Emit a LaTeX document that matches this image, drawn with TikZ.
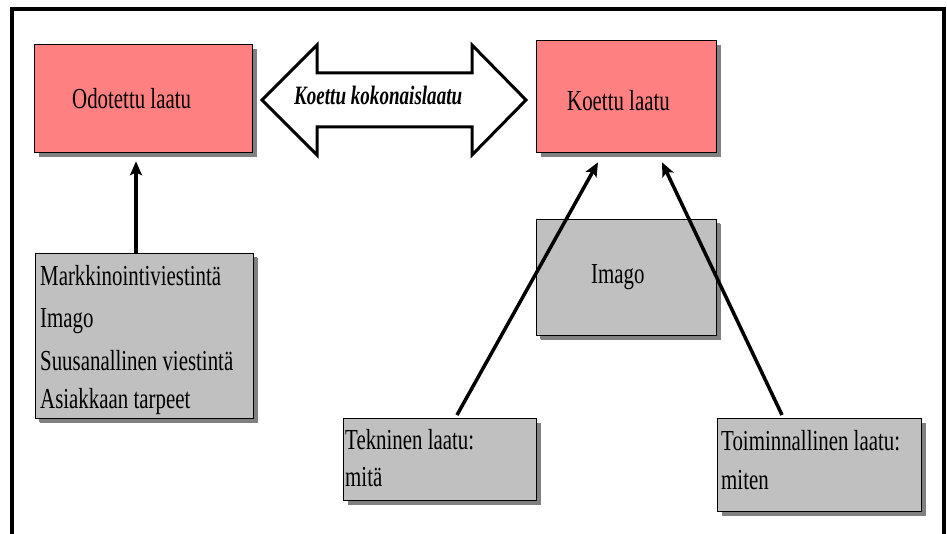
\documentclass[tikz,border=0pt]{standalone}
\usepackage{fontspec}
\setmainfont{Liberation Serif}[FakeStretch=0.72]
\usetikzlibrary{shadows,arrows.meta,calc}
\definecolor{boxred}{HTML}{FF8080}
\definecolor{boxgray}{HTML}{C0C0C0}
\definecolor{shadowgray}{HTML}{808080}
\tikzset{
  boxbase/.style={draw=black, line width=1.3pt, inner sep=0pt, anchor=north west,
    drop shadow={shadow xshift=4.5pt, shadow yshift=-4.5pt, fill=shadowgray, opacity=1}},
  redbox/.style={boxbase, fill=boxred},
  graybox/.style={boxbase, fill=boxgray},
  txt/.style={anchor=base west, inner sep=0pt, font=\fontsize{29}{29}\selectfont},
  arr/.style={line width=3.5pt, -{Stealth[length=14pt, width=12pt, inset=3pt]}},
  bigarrow/.style={draw=black, fill=white, line width=3pt, line join=miter}
}
\begin{document}
\begin{tikzpicture}[x=1pt, y=-1pt]
\useasboundingbox (0,0) rectangle (947,534);
\fill[white] (0,0) rectangle (947,534);
% frame
\draw[line width=4pt] (12,9) rectangle (944,580);

% red boxes
\node[redbox, minimum width=218pt, minimum height=108pt] (odo) at (34,44) {};
\node[redbox, minimum width=180pt, minimum height=112pt] (koe) at (536,40) {};
\node[txt] (odot) at (72,109) {Odotettu laatu};
\node[txt] (koet) at (567,111) {Koettu laatu};

% double block arrow
\draw[bigarrow] (262,100) -- (317,45) -- (317,73) -- (472,73) -- (472,45) -- (526,100)
  -- (472,155) -- (472,127) -- (317,127) -- (317,155) -- cycle;
\node[txt, font=\fontsize{26.5}{26.5}\selectfont\bfseries\itshape] (kok) at (294,104.5) {Koettu kokonaislaatu};

% gray boxes
\node[graybox, minimum width=218pt, minimum height=165pt, drop shadow={shadow xshift=3pt, shadow yshift=-3pt, fill=shadowgray, opacity=1}] (left) at (35,253) {};
\node[txt] (l1) at (40,285.7) {Markkinointiviestintä};
\node[txt] (l2) at (40,327.3) {Imago};
\node[txt] (l3) at (40,370.7) {Suusanallinen viestintä};
\node[txt] (l4) at (40,408.3) {Asiakkaan tarpeet};

\node[graybox, minimum width=180pt, minimum height=116pt, drop shadow={shadow xshift=3pt, shadow yshift=-3pt, fill=shadowgray, opacity=1}] (img) at (536,219) {};
\node[txt] (imgt) at (591,284) {Imago};

\node[graybox, minimum width=193pt, minimum height=82pt] (tek) at (343,418) {};
\node[txt] (tek1) at (345,449) {Tekninen laatu:};
\node[txt] (tek2) at (345,486) {mitä};

\node[graybox, minimum width=204pt, minimum height=93pt] (toi) at (717,418) {};
\node[txt] (toi1) at (721,450) {Toiminnallinen laatu:};
\node[txt] (toi2) at (721,489) {miten};

% arrows
\draw[arr] ([xshift=101pt]left.north west) -- ([xshift=102pt, yshift=-8pt]odo.south west);
\draw[arr] ([xshift=114pt, yshift=3pt]tek.north west) -- ([xshift=62pt, yshift=-9pt]koe.south west);
\draw[arr] ([xshift=65pt, yshift=3pt]toi.north west) -- ([xshift=126pt, yshift=-9pt]koe.south west);
\end{tikzpicture}
\end{document}
